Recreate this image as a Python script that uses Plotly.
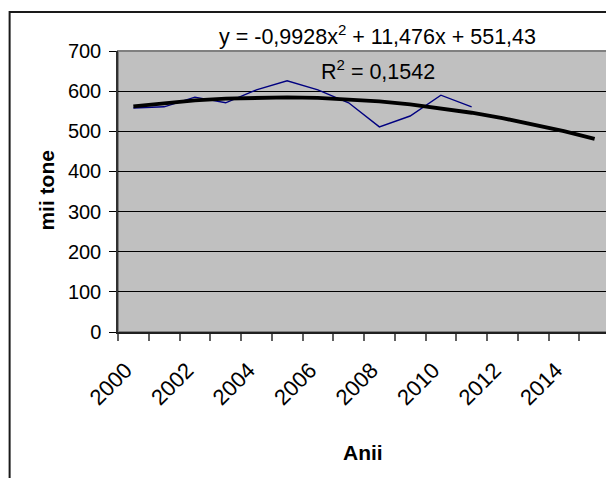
import numpy as np
import plotly.graph_objects as go

years = list(range(2000, 2012))
values = [558, 561, 585, 571, 603, 626, 603, 571, 511, 538, 590, 561]
trend_years = list(range(2000, 2016))
trend_coef = [-0.9928, 11.476, 551.43]
tick_years = [2000, 2002, 2004, 2006, 2008, 2010, 2012, 2014]
eq_text = "y = -0,9928x<sup>2</sup> + 11,476x + 551,43"
r2_text = "R<sup>2</sup> = 0,1542"

tx = np.array(trend_years) - 1999
trend_vals = np.polyval(trend_coef, tx)

font = "Liberation Sans, Arial, sans-serif"
fig = go.Figure()
fig.add_trace(go.Scatter(x=years, y=values, mode="lines",
                         line=dict(color="#000080", width=1.4), showlegend=False))
fig.add_trace(go.Scatter(x=trend_years, y=trend_vals, mode="lines",
                         line=dict(color="black", width=3.8), showlegend=False))

OFF = 8  # page body margin
W, H = 614 - OFF, 478 - OFF
L, T = 117.5 - OFF, 51 - OFF
PR, PB = 610 - OFF, 332 - OFF
R, B = W - PR, H - PB
pw, ph = PR - L, PB - T

def px2paper(x, y):
    # x, y in reference-image pixels
    return (x - OFF - L) / pw, (H - B - (y - OFF)) / ph

label_shift = -0.25  # nudge rotated labels so their ends sit like Excel's
fig.update_layout(
    width=W, height=H,
    margin=dict(l=L, r=R, t=T, b=B, pad=0),
    paper_bgcolor="white", plot_bgcolor="#c0c0c0",
    font=dict(family=font, size=20, color="black"),
    xaxis=dict(range=[1999.5, 2015.5], tickvals=[y + label_shift for y in tick_years],
               ticktext=[str(y) for y in tick_years], tickangle=-45,
               ticks="", showgrid=False, zeroline=False, ticklabelstandoff=15,
               showline=True, linecolor="#202020", linewidth=1.5,
               minor=dict(tick0=1999.5, dtick=1, ticks="outside", ticklen=7,
                          tickcolor="#606060", tickwidth=1.5, showgrid=False),
               tickfont=dict(size=22)),
    yaxis=dict(range=[0, 700], dtick=100, ticks="outside", ticklen=7,
               tickcolor="black", showgrid=True, gridcolor="black", gridwidth=1,
               zeroline=False, showline=True, linecolor="#303030", linewidth=1.5,
               ticklabelstandoff=4, tickfont=dict(size=20)),
)

# plot area border (gray, top/right)
fig.add_shape(type="rect", xref="paper", yref="paper", x0=0, y0=0, x1=1, y1=1,
              line=dict(color="#808080", width=2), layer="below")
# outer chart border
x0, y0 = px2paper(9, 12)
x1, y1 = px2paper(700, 560)
fig.add_shape(type="rect", xref="paper", yref="paper", x0=x0, y0=y1, x1=x1, y1=y0,
              line=dict(color="#1a1a1a", width=2), layer="below")

ax, ay = px2paper(377, 35)
fig.add_annotation(xref="paper", yref="paper", x=ax, y=ay, text=eq_text,
                   showarrow=False, font=dict(size=21.5), xanchor="center", yanchor="middle")
ax, ay = px2paper(378, 70)
fig.add_annotation(xref="paper", yref="paper", x=ax, y=ay, text=r2_text,
                   showarrow=False, font=dict(size=21.5), xanchor="center", yanchor="middle")
ax, ay = px2paper(45, 190)
fig.add_annotation(xref="paper", yref="paper", x=ax, y=ay, text="<b>mii tone</b>",
                   showarrow=False, textangle=-90, font=dict(size=21),
                   xanchor="center", yanchor="middle")
ax, ay = px2paper(363, 452)
fig.add_annotation(xref="paper", yref="paper", x=ax, y=ay, text="<b>Anii</b>",
                   showarrow=False, font=dict(size=21), xanchor="center", yanchor="middle")

fig.write_html("out.html")
